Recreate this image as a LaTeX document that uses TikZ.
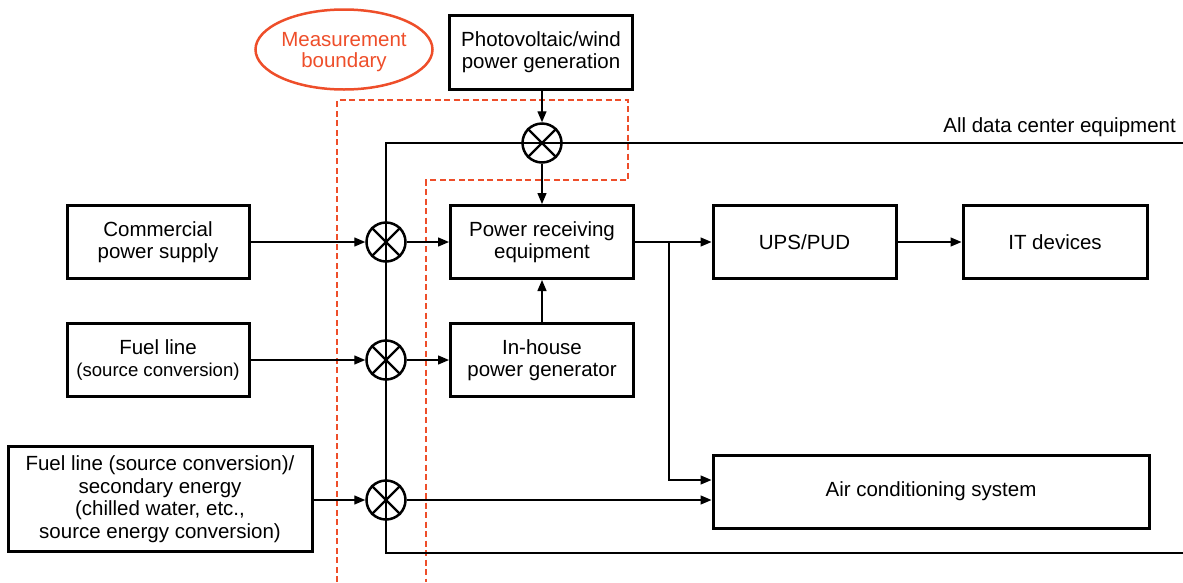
\documentclass[tikz,border=0pt]{standalone}
\usepackage{fontspec}
\setmainfont{Liberation Sans}
\usetikzlibrary{arrows.meta,shapes.geometric}
\definecolor{mbred}{RGB}{238,78,42}
\newcommand\fsz{\fontsize{20.5}{22.5}\selectfont}
\newcommand\fszs{\fontsize{18.6}{22.5}\selectfont}
\begin{document}
\begin{tikzpicture}[x=1pt,y=-1pt,
  box/.style={draw, line width=3pt, inner sep=0pt, align=center, font=\fsz},
  mixer/.style={draw, circle, line width=2.5pt, minimum size=39pt, inner sep=0pt},
  wire/.style={line width=1.4pt},
  arr/.style={wire, -{Triangle[length=11pt,width=9pt]}},
  bound/.style={mbred, line width=1.6pt, dash pattern=on 6pt off 3.5pt},
]
\useasboundingbox (0,0) rectangle (1183,582);

% measurement boundary
\draw[bound] (337,582) -- (337,100) -- (628,100) -- (628,180) -- (426,180) -- (426,582);
\node[draw=mbred, ellipse, line width=2.5pt, minimum width=177pt, minimum height=80pt,
      inner sep=0pt] (mb) at (344,49.5) {};
\node[text=mbred, align=center, inner sep=0pt, font=\fontsize{20.5}{21}\selectfont]
      (mbt) at ([yshift=-3pt]mb.center) {Measurement\\boundary};

% boxes
\node[box, minimum width=183pt, minimum height=74pt] (pv) at (541,52) {Photovoltaic/wind\\power generation};
\node[box, minimum width=182pt, minimum height=73pt] (comm) at (158,242) {Commercial\\power supply};
\node[box, minimum width=182pt, minimum height=73pt] (fuel) at (158,360) {Fuel line\\{\fszs (source conversion)}};
\node[box, minimum width=304pt, minimum height=105pt] (fuel2) at (160,499) {Fuel line (source conversion)/\\secondary energy\\(chilled water, etc.,\\source energy conversion)};
\node[box, minimum width=183pt, minimum height=73pt] (pre) at (542,242) {Power receiving\\equipment};
\node[box, minimum width=183pt, minimum height=73pt] (inh) at (542,360) {In-house\\power generator};
\node[box, minimum width=183pt, minimum height=73pt] (ups) at (804.5,242) {UPS/PUD};
\node[box, minimum width=184pt, minimum height=73pt] (it) at (1055,242) {IT devices};
\node[box, minimum width=436pt, minimum height=73pt] (ac) at (931,491.5) {Air conditioning system};

% mixers
\node[mixer] (m0) at (542,143) {};
\node[mixer] (m1) at (386,242) {};
\node[mixer] (m2) at (386,360) {};
\node[mixer] (m3) at (386,500) {};
\foreach \m in {m0,m1,m2,m3}
  \draw[line width=2.4pt] (\m.north west) -- (\m.south east) (\m.north east) -- (\m.south west);

% all data center equipment loop
\coordinate (lt) at (1183,143);
\coordinate (lc1) at (386,143);
\coordinate (lc2) at (386,553);
\coordinate (lb) at (1183,553);
\draw[wire] (lt) -- (lc1) -- (lc2) -- (lb);
\node[font=\fsz, anchor=base east, inner sep=0pt] (adc) at (1176,132) {All data center equipment};

% connectors
\draw[arr] (pv.south -| m0) -- (m0.north);
\draw[arr] (m0.south) -- (pre.north -| m0);
\draw[arr] (comm.east) -- (m1.west);
\draw[arr] (m1.east) -- (pre.west);
\draw[arr] (fuel.east) -- (m2.west);
\draw[arr] (m2.east) -- (inh.west);
\draw[arr] (fuel2.east |- m3) -- (m3.west);
\draw[arr] (m3.east) -- (m3.east -| ac.west);
\draw[arr] (inh.north) -- (pre.south);
\coordinate (j) at (669,242);
\draw[wire] (pre.east) -- (j);
\draw[arr] (j) -- (ups.west);
\draw[arr] (j) |- ([yshift=11.5pt]ac.west);
\draw[arr] (ups.east) -- (it.west);
\end{tikzpicture}
\end{document}
